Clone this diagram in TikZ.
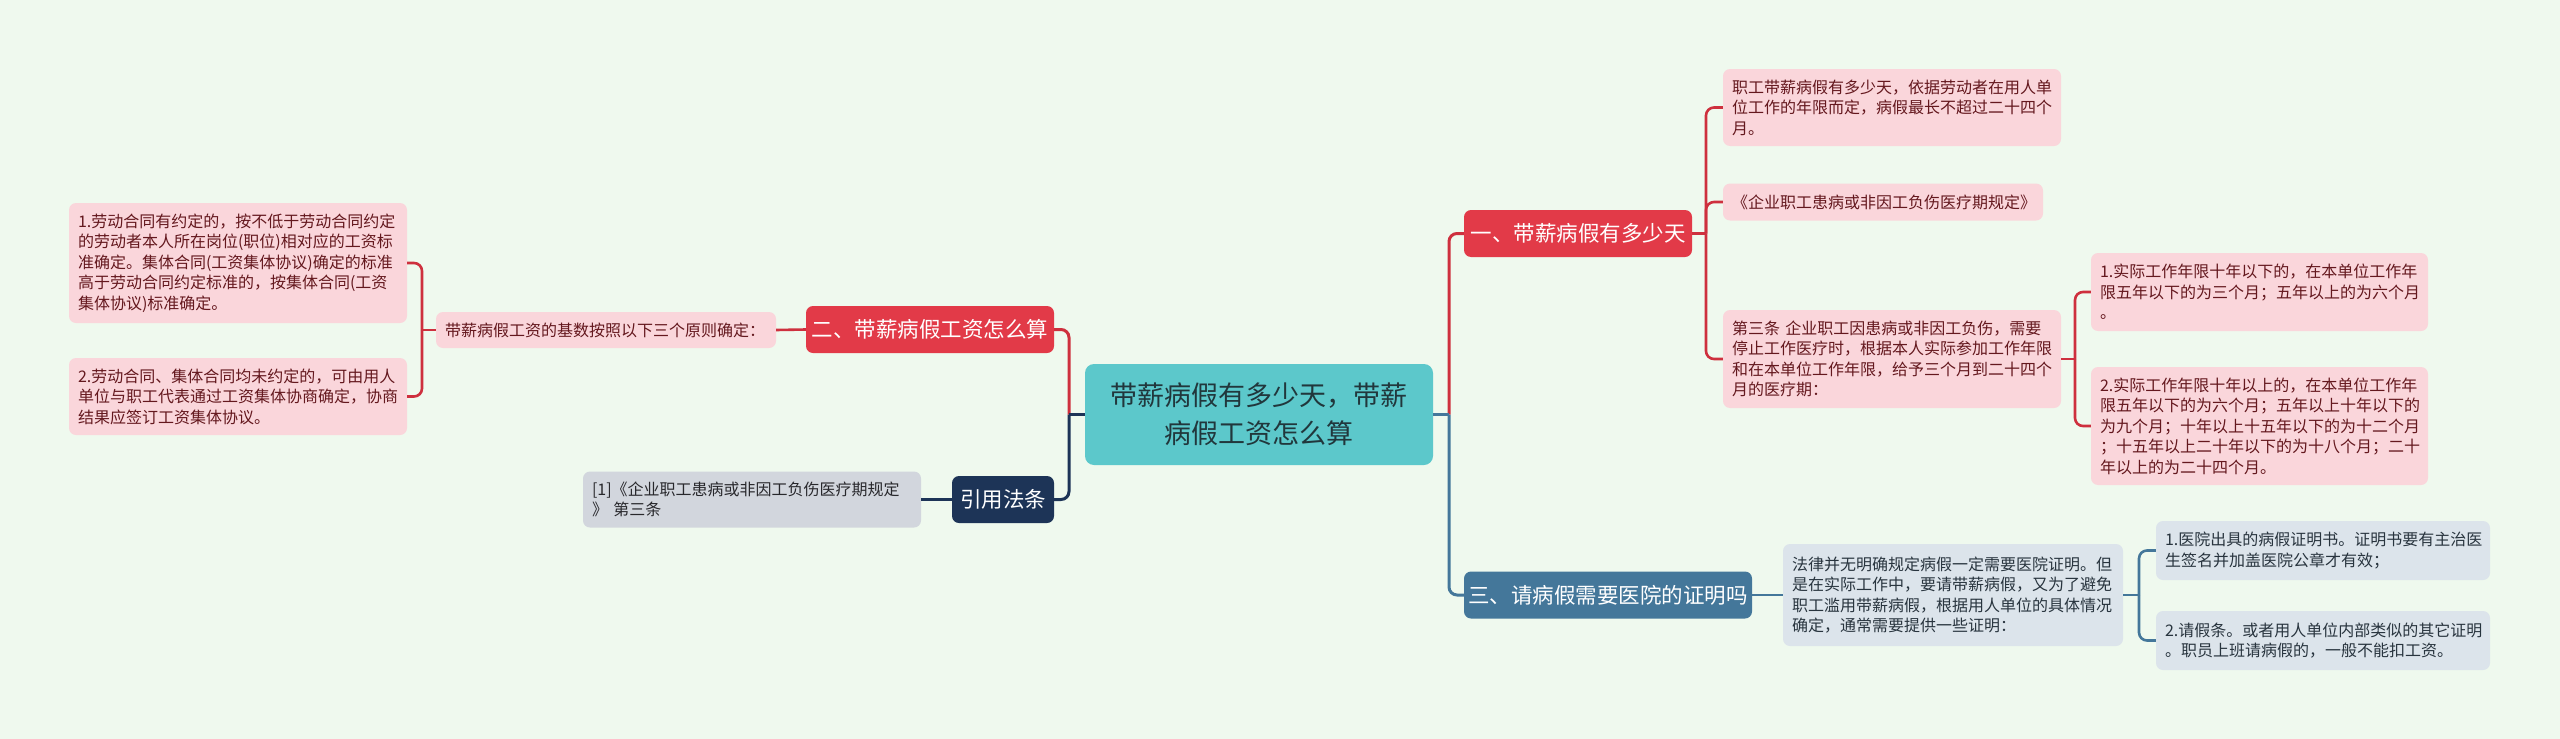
\documentclass[tikz,border=0pt]{standalone}
\usepackage{fontspec}
\setmainfont{Noto Sans CJK SC}
\usetikzlibrary{positioning}
\definecolor{bgmint}{RGB}{239,249,238}
\definecolor{rootteal}{RGB}{92,200,203}
\definecolor{rootink}{RGB}{33,55,60}
\definecolor{headred}{RGB}{226,58,72}
\definecolor{linered}{RGB}{206,48,62}
\definecolor{leafpink}{RGB}{250,214,219}
\definecolor{inkred}{RGB}{100,24,30}
\definecolor{navy}{RGB}{29,52,87}
\definecolor{leafgrey}{RGB}{210,214,221}
\definecolor{ink}{RGB}{40,40,44}
\definecolor{steel}{RGB}{68,119,154}
\definecolor{leafsteel}{RGB}{220,228,235}
\definecolor{inksteel}{RGB}{40,52,62}

\begin{document}
\begin{tikzpicture}[x=1pt,y=-1pt, every node/.style={font=\fontsize{16}{20.5}\selectfont},
  top/.style={rounded corners=9pt,fill=rootteal,text=rootink,align=center,font=\fontsize{27}{38}\selectfont,minimum width=348pt,minimum height=101pt},
  hd/.style={rounded corners=7pt,fill=#1,text=white,font=\fontsize{21.5}{26}\selectfont,minimum height=47pt,inner xsep=0pt},
  lf/.style={rounded corners=7pt,fill=#1,align=left,inner xsep=9pt,inner ysep=0pt},
  ln/.style={line width=3pt,draw=#1,rounded corners=8pt},
  sub/.style={line width=2.6pt,draw=#1,rounded corners=8pt}]
  \fill[bgmint] (0,0) rectangle (2560,739);
  \useasboundingbox (0,0) rectangle (2560,739);

  % centre and main branches
  \node[top] (root) at (1259,414.5) {带薪病假有多少天，带薪\\病假工资怎么算};
  \node[hd=headred,minimum width=228pt] (sick) at (1578,233.5) {一、带薪病假有多少天};
  \node[hd=headred,minimum width=248pt] (pay) at (930,329.5) {二、带薪病假工资怎么算};
  \node[hd=navy,minimum width=102pt] (law) at (1003,499.5) {引用法条};
  \node[hd=steel,minimum width=288pt] (proof) at (1608,595) {三、请病假需要医院的证明吗};

  % left side
  \node[lf=leafpink,text=inkred,text width=322pt,minimum height=36pt] (base) at (606,330) {带薪病假工资的基数按照以下三个原则确定：};
  \node[lf=leafpink,text=inkred,text width=320pt,minimum height=120pt] (rule1) at (238,263) {1.劳动合同有约定的，按不低于劳动合同约定\\的劳动者本人所在岗位(职位)相对应的工资标\\准确定。集体合同(工资集体协议)确定的标准\\高于劳动合同约定标准的，按集体合同(工资\\集体协议)标准确定。};
  \node[lf=leafpink,text=inkred,text width=320pt,minimum height=77pt] (rule2) at (238,396.5) {2.劳动合同、集体合同均未约定的，可由用人\\单位与职工代表通过工资集体协商确定，协商\\结果应签订工资集体协议。};
  \node[lf=leafgrey,text=ink,text width=320pt,minimum height=56pt] (lawtext) at (752,499.5) {[1]《企业职工患病或非因工负伤医疗期规定\\》 第三条};

  % right side, branch one
  \node[lf=leafpink,text=inkred,text width=320pt,minimum height=77pt] (days) at (1892,107.5) {职工带薪病假有多少天，依据劳动者在用人单\\位工作的年限而定，病假最长不超过二十四个\\月。};
  \node[lf=leafpink,text=inkred,text width=302pt,minimum height=37pt] (reg) at (1883,202) {《企业职工患病或非因工负伤医疗期规定》};
  \node[lf=leafpink,text=inkred,text width=320pt,minimum height=98pt] (art) at (1892,359) {第三条 企业职工因患病或非因工负伤，需要\\停止工作医疗时，根据本人实际参加工作年限\\和在本单位工作年限，给予三个月到二十四个\\月的医疗期：};
  \node[lf=leafpink,text=inkred,text width=319pt,minimum height=78pt] (under) at (2259.5,292) {1.实际工作年限十年以下的，在本单位工作年\\限五年以下的为三个月；五年以上的为六个月\\。};
  \node[lf=leafpink,text=inkred,text width=319pt,minimum height=118pt] (over) at (2259.5,426) {2.实际工作年限十年以上的，在本单位工作年\\限五年以下的为六个月；五年以上十年以下的\\为九个月；十年以上十五年以下的为十二个月\\；十五年以上二十年以下的为十八个月；二十\\年以上的为二十四个月。};

  % right side, branch three
  \node[lf=leafsteel,text=inksteel,text width=322pt,minimum height=102pt] (note) at (1953,595) {法律并无明确规定病假一定需要医院证明。但\\是在实际工作中，要请带薪病假，又为了避免\\职工滥用带薪病假，根据用人单位的具体情况\\确定，通常需要提供一些证明：};
  \node[lf=leafsteel,text=inksteel,text width=316pt,minimum height=59pt] (cert) at (2323,550.5) {1.医院出具的病假证明书。证明书要有主治医\\生签名并加盖医院公章才有效；};
  \node[lf=leafsteel,text=inksteel,text width=316pt,minimum height=59pt] (slip) at (2323,640.5) {2.请假条。或者用人单位内部类似的其它证明\\。职员上班请病假的，一般不能扣工资。};

  % connectors
  \coordinate (jl) at (1069,414.5);
  \coordinate (jr) at (1449,414.5);
  \draw[ln=linered] (jl) |- (pay.east);
  \draw[ln=navy] (jl) |- (law.east);
  \draw[ln=navy] (root.west) -- (jl);
  \draw[ln=linered] (jr) |- (sick.west);
  \draw[ln=steel] (jr) |- (proof.west);
  \draw[ln=steel] (root.east) -- (jr);

  \draw[sub=linered] (pay.west) -- (base.east);
  \coordinate (jc) at (422,330);
  \draw[sub=linered] (base.west) -- (jc);
  \foreach \n in {rule1,rule2} \draw[sub=linered] (jc) |- (\n.east);
  \draw[sub=navy] (law.west) -- (lawtext.east);

  \coordinate (ja) at (1706,233.5);
  \draw[sub=linered] (sick.east) -- (ja);
  \foreach \n in {days,reg,art} \draw[sub=linered] (ja) |- (\n.west);
  \coordinate (jb) at (2075,359);
  \draw[sub=linered] (art.east) -- (jb);
  \foreach \n in {under,over} \draw[sub=linered] (jb) |- (\n.west);

  \draw[sub=steel] (proof.east) -- (note.west);
  \coordinate (jd) at (2139,595);
  \draw[sub=steel] (note.east) -- (jd);
  \foreach \n in {cert,slip} \draw[sub=steel] (jd) |- (\n.west);
\end{tikzpicture}
\end{document}
